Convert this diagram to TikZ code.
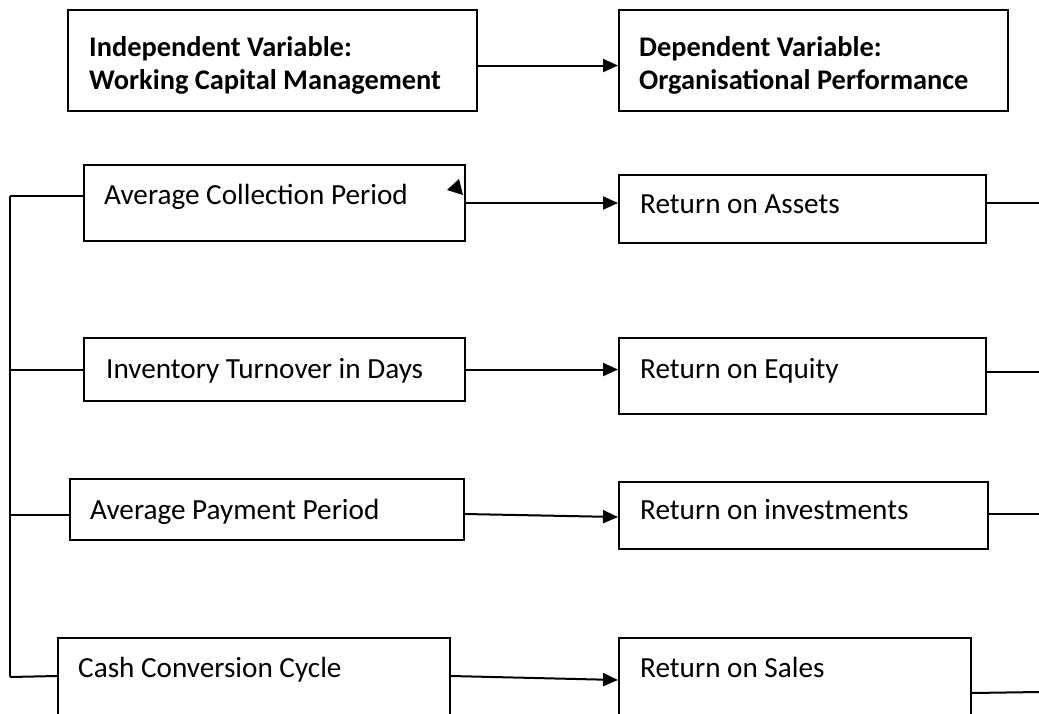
\documentclass[tikz,border=0pt]{standalone}
\usepackage{fontspec}
\setmainfont{Carlito}
\usetikzlibrary{arrows.meta,calc}
\begin{document}
\begin{tikzpicture}[x=1pt,y=-1pt,
  box/.style={draw, line width=2pt, rectangle, inner sep=0pt, anchor=north west},
  lbl/.style={anchor=base west, inner sep=0pt, font=\fontsize{29.2}{34}\selectfont},
  blbl/.style={lbl, font=\fontsize{28.4}{34}\selectfont\bfseries},
  conn/.style={line width=2pt},
  arr/.style={conn, -{Triangle[length=15pt,width=13pt]}}]
\useasboundingbox (0,0) rectangle (1039,713);
\clip (0,0) rectangle (1039,713);
\fill[white] (0,0) rectangle (1039,713);
% header
\node[box, minimum width=409pt, minimum height=101pt] (iv) at (67,9) {};
\node[box, minimum width=389pt, minimum height=101pt] (dv) at (618,9) {};
\node[blbl] (ivt1) at (89,56) {Independent Variable:};
\node[blbl] (ivt2) at (89,89) {Working Capital Management};
\node[blbl] (dvt1) at (639,56) {Dependent Variable:};
\node[blbl] (dvt2) at (639,89) {Organisational Performance};
\draw[arr] ($(iv.east)+(0,5)$) -- ($(dv.west)+(0,5)$);
% left boxes
\node[box, minimum width=381pt, minimum height=76pt] (acp) at (83,164) {};
\node[box, minimum width=381pt, minimum height=63pt] (inv) at (83,337) {};
\node[box, minimum width=394pt, minimum height=61pt] (app) at (69,478) {};
\node[box, minimum width=392pt, minimum height=110pt] (ccc) at (57,637) {};
\node[lbl] (acpt) at (104,204) {Average Collection Period};
\node[lbl] (invt) at (106,378) {Inventory Turnover in Days};
\node[lbl] (appt) at (90,519) {Average Payment Period};
\node[lbl] (ccct) at (78,677) {Cash Conversion Cycle};
% right boxes
\node[box, minimum width=367pt, minimum height=68pt] (roa) at (618,174) {};
\node[box, minimum width=367pt, minimum height=76pt] (roe) at (618,337) {};
\node[box, minimum width=369pt, minimum height=67pt] (roi) at (618,481) {};
\node[box, minimum width=352pt, minimum height=110pt] (ros) at (618,637) {};
\node[lbl] (roat) at (640,213) {Return on Assets};
\node[lbl] (roet) at (640,378) {Return on Equity};
\node[lbl] (roit) at (640,519) {Return on investments};
\node[lbl] (rost) at (640,677) {Return on Sales};
% stray arrowhead
\fill (447,190) -- (459,179) -- (463,195) -- cycle;
% arrows
\draw[arr] (acp.east) -- (acp.east -| roa.west);
\draw[arr] (inv.east) -- (inv.east -| roe.west);
\draw[arr] ($(app.east)+(0,4.5)$) -- ($(roi.west)+(0,1.5)$);
\draw[arr] ($(ccc.east)+(0,-17)$) -- ($(ros.west)+(0,-13)$);
% right stubs
\coordinate (r1) at (1039,203);
\coordinate (r2) at (1039,372);
\coordinate (r3) at (1039,514);
\coordinate (r4) at (1039,692);
\draw[conn] (roa.east |- r1) -- (r1);
\draw[conn] (roe.east |- r2) -- (r2);
\draw[conn] (roi.east |- r3) -- (r3);
\draw[conn] (ros.east) -- (r4);
% left bracket
\coordinate (l1) at (10,196);
\coordinate (l2) at (10,370);
\coordinate (l3) at (10,515);
\coordinate (l4) at (10,677);
\draw[conn] (acp.west |- l1) -- (l1);
\draw[conn] (inv.west |- l2) -- (l2);
\draw[conn] (app.west |- l3) -- (l3);
\draw[conn] ($(ccc.west)+(0,-17)$) -- (l4);
\draw[conn] (l1) -- (l4);
\end{tikzpicture}
\end{document}
